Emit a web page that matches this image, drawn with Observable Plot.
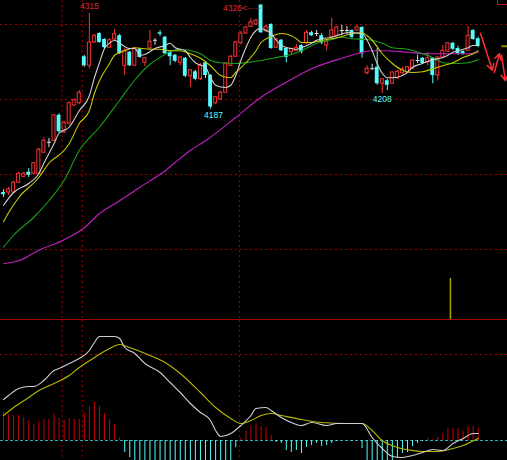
<!DOCTYPE html>
<html><head><meta charset="utf-8">
<script src="https://cdn.jsdelivr.net/npm/d3@7"></script>
<script src="https://cdn.jsdelivr.net/npm/@observablehq/plot@0.6"></script>
<style>
html,body{margin:0;padding:0;background:#000;}
#chart{position:relative;width:507px;height:460px;overflow:hidden;background:#000;}
#chart svg{display:block;}
#btn{position:absolute;left:497px;top:-6px;width:20px;height:9px;border:1px solid #d01010;}
</style></head><body><div id="chart"><div id="btn"></div></div>
<script>
// ---- candle data (index 0..94) ----
const open = [4076,4076,4076,4089,4097,4103,4101,4101,4129,4143, 4145,4179,4156,4168,4192,4195,4257,4245,4276,4288, 4280,4269,4280,4285,4245,4263,4245,4267,4249,4268, 4279,4289,4283,4263,4259,4249,4255,4231,4237,4227, 4249,4232,4195,4200,4209,4245,4257,4275,4288,4297, 4300,4326,4291,4300,4269,4279,4268,4263,4265,4272, 4275,4289,4288,4285,4272,4283,4285,4292,4292,4292, 4292,4296,4235,4241,4243,4221,4225,4221,4228,4235, 4236,4241,4252,4255,4249,4255,4232,4256,4264,4275, 4268,4264,4265,4292,4281];
const close = [4073,4080,4089,4101,4101,4099,4115,4133,4145,4143, 4179,4157,4169,4195,4199,4209,4245,4276,4285,4276, 4269,4279,4287,4261,4265,4245,4268,4256,4255,4277, 4279,4287,4261,4257,4251,4256,4231,4239,4227,4245, 4232,4190,4203,4209,4248,4257,4276,4288,4296,4303, 4305,4289,4297,4268,4280,4265,4256,4267,4269,4263, 4289,4285,4288,4275,4277,4292,4296,4292,4292,4283, 4296,4261,4241,4241,4221,4227,4219,4236,4237,4240, 4243,4252,4252,4248,4255,4232,4256,4265,4275,4267, 4261,4261,4285,4280,4271];
const high = [4080,4083,4091,4103,4103,4108,4116,4135,4149,4148, 4180,4181,4171,4197,4201,4212,4259,4315,4287,4289, 4281,4281,4293,4287,4268,4264,4269,4268,4256,4292, 4281,4292,4284,4265,4260,4257,4256,4240,4239,4248, 4251,4233,4204,4211,4249,4259,4277,4291,4297,4308, 4307,4326,4299,4301,4281,4280,4269,4269,4273,4273, 4292,4291,4292,4288,4279,4308,4297,4299,4297,4293, 4299,4297,4245,4247,4268,4228,4227,4237,4239,4243, 4244,4253,4259,4256,4263,4256,4257,4272,4276,4276, 4271,4265,4297,4293,4283];
const low = [4069,4072,4075,4088,4096,4096,4099,4100,4128,4136, 4144,4155,4155,4166,4191,4193,4243,4241,4275,4275, 4268,4268,4279,4260,4232,4244,4244,4255,4244,4267, 4272,4284,4260,4245,4249,4245,4229,4216,4225,4225, 4228,4187,4193,4199,4208,4244,4256,4273,4287,4296, 4299,4288,4289,4267,4268,4264,4249,4260,4264,4261, 4273,4284,4284,4273,4265,4281,4284,4285,4287,4281, 4291,4255,4233,4239,4219,4208,4212,4220,4227,4233, 4235,4240,4248,4247,4245,4221,4225,4255,4263,4265, 4259,4259,4264,4279,4269];

// ---- moving averages [index, price] ----
const ma5 = [[0,4059],[2,4076],[5,4088],[7,4101],[8,4115],[10,4141],[11,4155],[13,4163],[15,4185],[17,4205],[18,4229],[19,4249],[20,4268],[21,4275],[22,4279],[23,4275],[25,4268],[26,4268],[27,4259],[28,4260],[30,4268],[32,4272],[33,4275],[34,4269],[36,4265],[37,4256],[38,4249],[40,4243],[41,4229],[42,4219],[44,4216],[45,4219],[46,4232],[47,4252],[48,4269],[49,4283],[50,4292],[51,4295],[52,4292],[53,4288],[54,4279],[55,4272],[57,4268],[58,4267],[59,4269],[61,4275],[62,4279],[63,4281],[65,4283],[66,4285],[68,4289],[69,4289],[71,4288],[72,4279],[73,4265],[74,4248],[75,4235],[76,4229],[77,4229],[79,4232],[80,4236],[81,4243],[83,4248],[84,4251],[85,4253],[87,4256],[88,4259],[89,4263],[90,4265],[92,4269],[93,4272],[94,4272]];
const ma10 = [[0,4037],[1,4049],[3,4069],[7,4096],[9,4115],[12,4132],[13,4141],[15,4168],[17,4185],[18,4208],[19,4225],[21,4248],[22,4259],[24,4265],[26,4269],[29,4267],[31,4267],[33,4265],[35,4265],[37,4261],[39,4255],[41,4245],[43,4232],[45,4229],[46,4236],[48,4249],[50,4265],[51,4276],[53,4284],[55,4288],[57,4285],[58,4281],[59,4276],[61,4276],[63,4279],[65,4281],[67,4284],[69,4288],[71,4289],[72,4285],[73,4279],[75,4261],[77,4248],[79,4239],[81,4236],[83,4237],[85,4241],[87,4245],[89,4249],[91,4256],[93,4261],[94,4265]];
const ma20 = [[0,4003],[2,4019],[6,4043],[9,4065],[12,4092],[15,4132],[19,4163],[23,4199],[26,4226],[29,4247],[31,4256],[33,4264],[35,4267],[37,4265],[39,4261],[41,4252],[43,4249],[46,4248],[49,4250],[51,4252],[54,4256],[57,4260],[59,4265],[62,4275],[65,4280],[67,4283],[69,4281],[72,4280],[75,4275],[77,4269],[80,4267],[83,4261],[85,4256],[87,4249],[89,4248],[90,4248],[92,4249],[94,4253]];
const ma60 = [[0,3981],[3,3985],[7,3999],[12,4013],[16,4029],[19,4048],[23,4065],[27,4083],[32,4105],[34,4116],[37,4132],[40,4145],[46,4176],[51,4203],[56,4223],[61,4241],[67,4255],[70,4261],[73,4265],[76,4265],[80,4263],[84,4261],[88,4261],[92,4261],[94,4263]];

// ---- MACD [index, value] ----
const dif = [[0,20.5],[1,22.5],[3,26],[5,27],[6,27],[8,30],[10,35],[11,36],[13,38.5],[15,41],[17,45],[18,49],[19,52],[22,52],[23,51],[24,46.5],[26,43.5],[28,38.5],[31,34],[33,29],[35,24],[37,18.5],[39,14],[41,10],[42,5],[43,2],[45,3.5],[47,7.5],[49,12.5],[50,16],[52,16.5],[53,15],[55,11.5],[57,9],[59,7.5],[61,9],[64,7.5],[66,8.5],[68,8.5],[71,8.5],[73,1.5],[75,-4],[77,-8],[79,-8.5],[81,-7.5],[83,-6],[85,-4.5],[87,-5],[89,-1.5],[91,1],[93,3.5],[94,3.5]];
const dea = [[0,12.5],[2,16.5],[5,21.5],[7,25],[10,28.5],[13,32.5],[15,36.5],[18,41.5],[21,46],[23,48],[25,46.5],[29,42.5],[32,39],[35,33.5],[39,24],[42,16.5],[45,11],[47,8.5],[49,10],[51,12.5],[53,13.5],[55,12.5],[59,10.5],[63,9],[68,8.5],[71,8.5],[73,5],[75,0],[78,-3.5],[81,-5],[83,-5.5],[86,-5.5],[89,-4],[91,-2.5],[94,1]];
const macdHist = [14,13,12.5,12.5,11.5,10,8,9.5,10.5,10.5,13,11,10,11,10.5,10.5,13.5,17,19,17,13.5,10.5,8,1.5,
 -6,-8.5,-12,-14,-16,-17,-18,-18,-18,-17,-16,-15,-14,-13,-13,-12,-12,-12,-11,-11,-11,-10.5,-3.5,
 1,5,7.5,8.5,7,6.5,2.5,-1,-1.5,-5,-6,-5,-6.5,-3.5,-2.5,-1.5,-3,-2.5,-1.5,-0.5,0,0,-0.5,0,-4,-11,-12,-13,-13,-12,-12,-9,-6.5,-6,-3,-1.5,-0.5,1,0.5,1.5,3.5,6,6,6,4.5,7,7,6];

// ---- other elements ----
const priceGrid = [4300, 4200, 4100, 4000];
const separators = [11.6, 15.6, 46.7];
const macdGrid = [43];
const signal = [[88.5, 1]];
const highLabels = [{i:17, p:4315, text:"4315"}];
const leftHighLabels = [{i:51, p:4326, text:"4326<·····"}];
const lowLabels = [{i:41, p:4187, text:"4187", dx:3}, {i:75, p:4208, text:"4208", dx:0}];
const forecast = [[94.46,4288,96.8,4239],[97.2,4236,98.2,4261],[98.6,4259,99.4,4225]];
const targetLine = [[98.6,4271,99.8,4271]];

const RED = "#ff3030", HRED = "#c80000", CYAN = "#54fcfc", GRID = "#a00000";
const WHITE = "#d0d0d0", YEL = "#c8c800", GRN = "#18a018", MAG = "#c020c0";
const FONT = "Liberation Sans, Arial, sans-serif";

const candles = open.map((o, i) => ({i, o, c: close[i], h: high[i], l: low[i]}));
const up = candles.filter(d => d.c > d.o);
const down = candles.filter(d => d.c < d.o);
const doji = candles.filter(d => d.c === d.o);
const hist = macdHist.map((v, i) => ({i, v}));

const common = {
  width: 507, marginTop: 0, marginRight: 0, marginBottom: 0, marginLeft: 0,
  x: {domain: [-0.594, 99.8], axis: null},
  style: {background: "#000", display: "block", fontFamily: FONT}
};
const sepMark = () => Plot.ruleX(separators, {stroke: GRID, strokeDasharray: "2,3"});
const px = d => d[0], py = d => d[1];

const price = Plot.plot({
  ...common, height: 276,
  y: {domain: [3964, 4332], axis: null},
  marks: [
    Plot.ruleY(priceGrid, {stroke: GRID, strokeDasharray: "2,3"}),
    sepMark(),
    Plot.ruleX(up, {x: "i", y1: "l", y2: "h", stroke: RED}),
    Plot.rect(up, {x1: d => d.i - 0.3, x2: d => d.i + 0.3, y1: "o", y2: "c", fill: "#000", stroke: RED}),
    Plot.ruleX(down, {x: "i", y1: "l", y2: "h", stroke: CYAN}),
    Plot.rect(down, {x1: d => d.i - 0.38, x2: d => d.i + 0.38, y1: "c", y2: "o", fill: CYAN}),
    Plot.ruleX(doji, {x: "i", y1: "l", y2: "h", stroke: "#e0e0e0"}),
    Plot.link(doji, {x1: d => d.i - 0.4, x2: d => d.i + 0.4, y1: "o", y2: "o", stroke: "#e0e0e0"}),
    Plot.line(ma60, {x: px, y: py, stroke: MAG, strokeWidth: 1.1, curve: "monotone-x"}),
    Plot.line(ma20, {x: px, y: py, stroke: GRN, strokeWidth: 1.1, curve: "monotone-x"}),
    Plot.line(ma10, {x: px, y: py, stroke: YEL, strokeWidth: 1.1, curve: "monotone-x"}),
    Plot.line(ma5, {x: px, y: py, stroke: WHITE, strokeWidth: 1.1, curve: "monotone-x"}),
    Plot.text(highLabels, {x: "i", y: "p", text: "text", fill: "#e02828", fontSize: 8.5, dy: -7}),
    Plot.text(leftHighLabels, {x: "i", y: "p", text: "text", fill: "#e02828", fontSize: 8.5, textAnchor: "end", dy: 3.5}),
    Plot.text(lowLabels.filter(d => d.dx === 3), {x: "i", y: "p", text: "text", fill: CYAN, fontSize: 8.5, dx: 3, dy: 6}),
    Plot.text(lowLabels.filter(d => d.dx === 0), {x: "i", y: "p", text: "text", fill: CYAN, fontSize: 8.5, dy: 6}),
    Plot.link(targetLine, {x1: d => d[0], y1: d => d[1], x2: d => d[2], y2: d => d[3], stroke: "#8c8c00", strokeWidth: 2}),
    Plot.arrow(forecast, {x1: d => d[0], y1: d => d[1], x2: d => d[2], y2: d => d[3], stroke: RED, strokeWidth: 1.5, headLength: 7})
  ]
});

const vol = Plot.plot({
  ...common, height: 44, marginBottom: 1,
  y: {domain: [0, 1.05], axis: null},
  marks: [
    sepMark(),
    Plot.ruleX(signal, {x: px, y1: 0, y2: py, stroke: "#a8a800", strokeWidth: 1.5}),
    Plot.ruleY([0], {stroke: GRID})
  ]
});

const macd = Plot.plot({
  ...common, height: 140,
  y: {domain: [-10, 60], axis: null},
  marks: [
    sepMark(),
    Plot.ruleY(macdGrid, {stroke: GRID, strokeDasharray: "2,3"}),
    Plot.ruleY([0], {stroke: "#2ab0b0", strokeDasharray: "3,2"}),
    Plot.ruleX(hist.filter(d => d.v > 0), {x: "i", y1: 0, y2: "v", stroke: HRED, clip: true}),
    Plot.ruleX(hist.filter(d => d.v < 0), {x: "i", y1: 0, y2: "v", stroke: CYAN, clip: true}),
    Plot.line(dea, {x: px, y: py, stroke: "#b8b800", strokeWidth: 1.1, curve: "monotone-x"}),
    Plot.line(dif, {x: px, y: py, stroke: WHITE, strokeWidth: 1.1, curve: "monotone-x"})
  ]
});

const root = document.getElementById("chart");
root.insertBefore(macd, root.firstChild);
root.insertBefore(vol, macd);
root.insertBefore(price, vol);
</script></body></html>
